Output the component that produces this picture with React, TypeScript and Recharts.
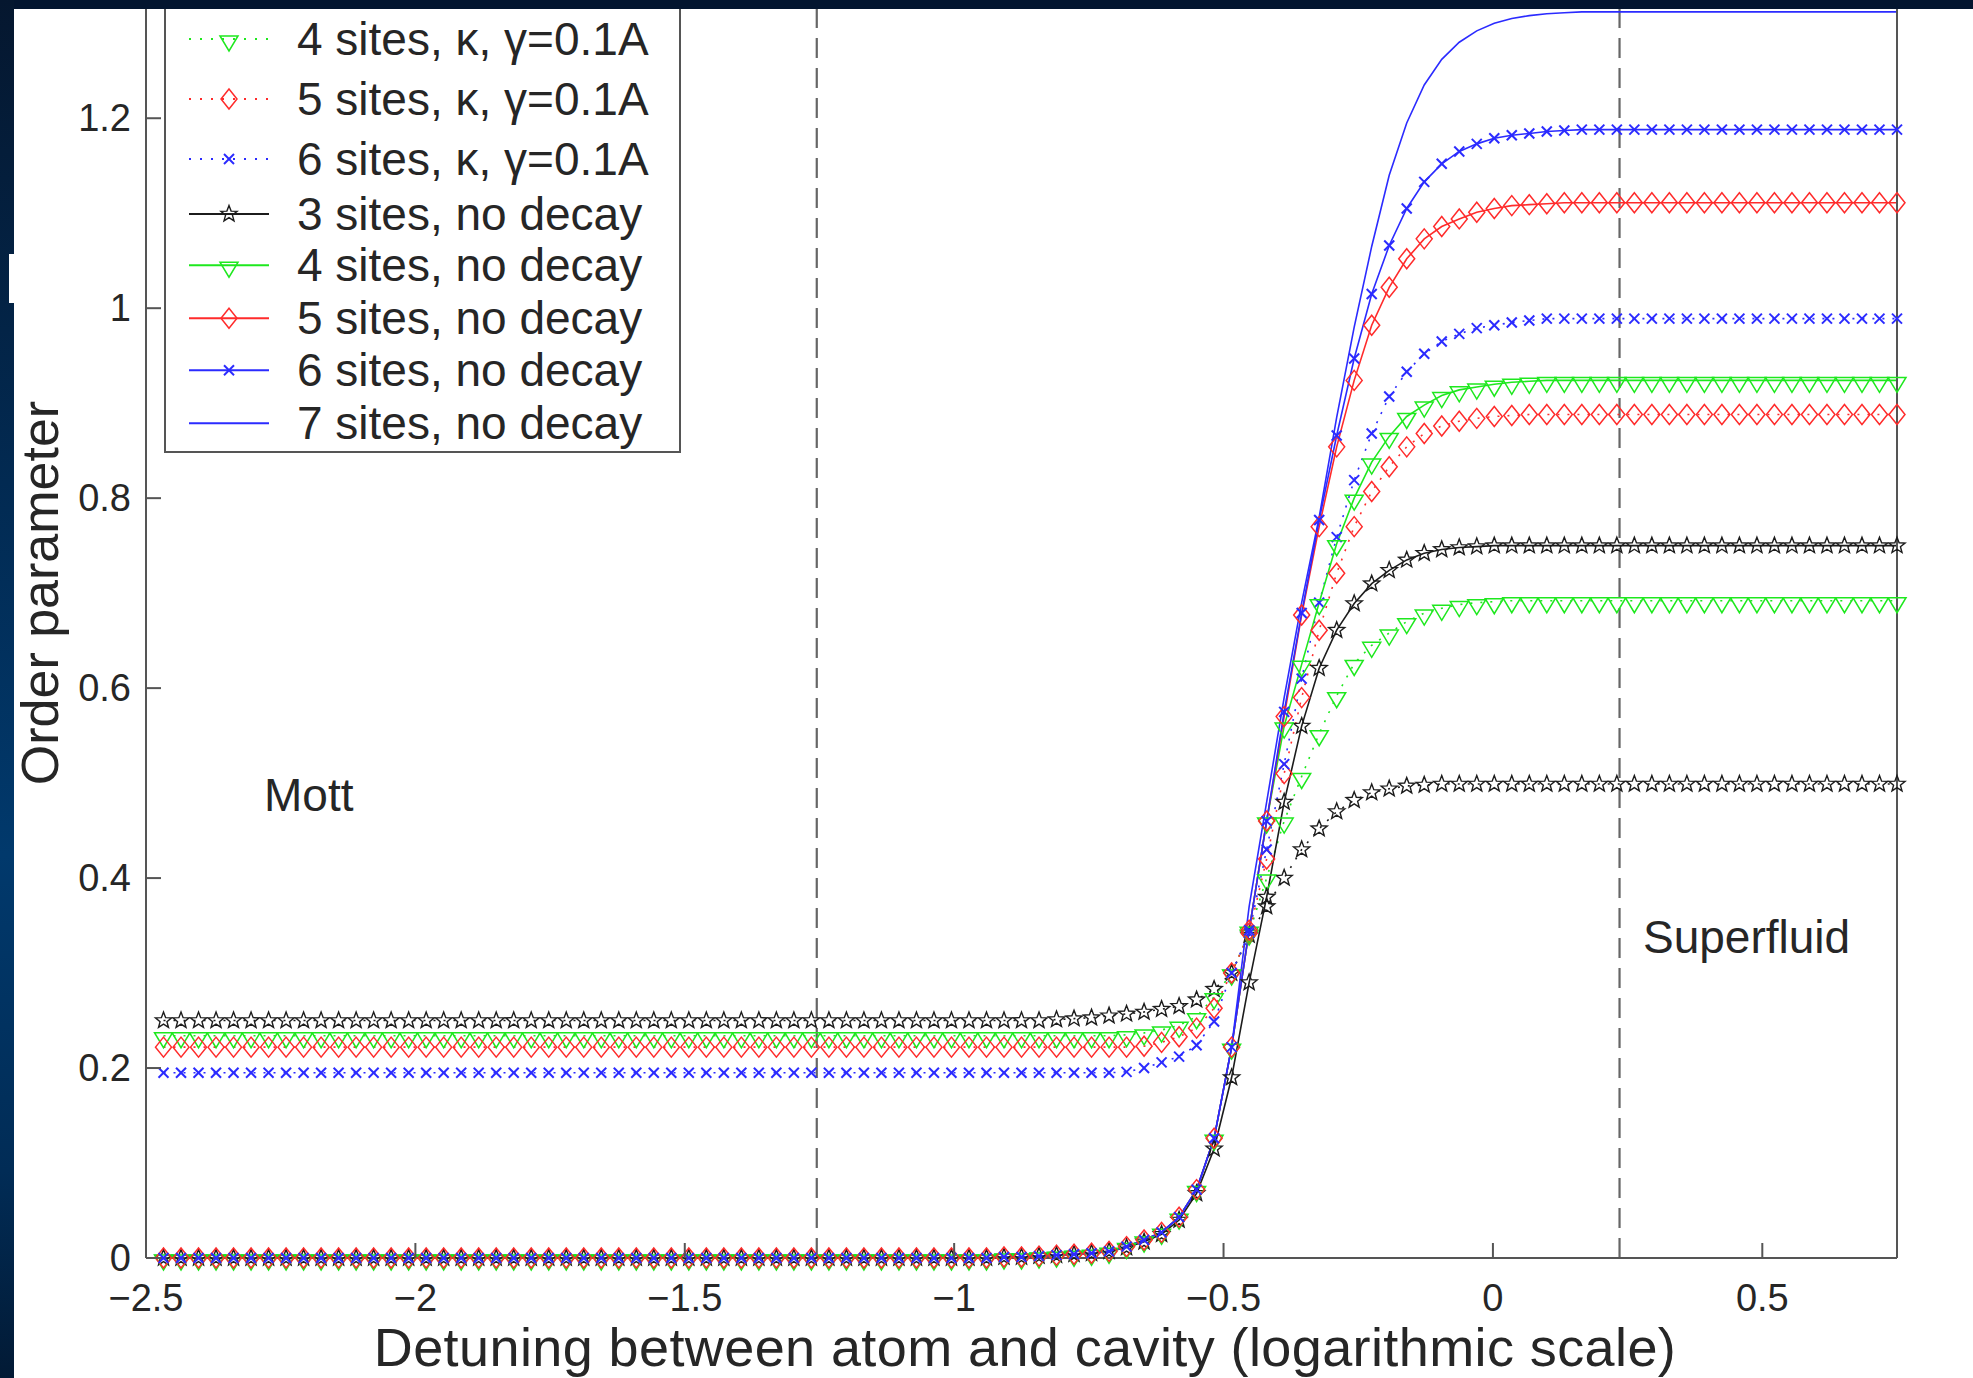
import React from 'react';
import { LineChart, Line, XAxis, YAxis, ReferenceLine } from 'recharts';

// detuning (log scale) sample points
const xValues = [
  -2.4675, -2.435, -2.4025, -2.37, -2.3375, -2.305, -2.2725, -2.24, -2.2075, -2.175,
  -2.1425, -2.11, -2.0775, -2.045, -2.0125, -1.98, -1.9475, -1.915, -1.8825, -1.85,
  -1.8175, -1.785, -1.7525, -1.72, -1.6875, -1.655, -1.6225, -1.59, -1.5575, -1.525,
  -1.4925, -1.46, -1.4275, -1.395, -1.3625, -1.33, -1.2975, -1.265, -1.2325, -1.2,
  -1.1675, -1.135, -1.1025, -1.07, -1.0375, -1.005, -0.9725, -0.94, -0.9075, -0.875,
  -0.8425, -0.81, -0.7775, -0.745, -0.7125, -0.68, -0.6475, -0.615, -0.5825, -0.55,
  -0.5175, -0.485, -0.4525, -0.42, -0.3875, -0.355, -0.3225, -0.29, -0.2575, -0.225,
  -0.1925, -0.16, -0.1275, -0.095, -0.0625, -0.03, 0.0025, 0.035, 0.0675, 0.1,
  0.1325, 0.165, 0.1975, 0.23, 0.2625, 0.295, 0.3275, 0.36, 0.3925, 0.425,
  0.4575, 0.49, 0.5225, 0.555, 0.5875, 0.62, 0.6525, 0.685, 0.7175, 0.75,
];

const xTicks = [-2.5, -2, -1.5, -1, -0.5, 0, 0.5];
const yTicks = [0, 0.2, 0.4, 0.6, 0.8, 1, 1.2];
const phaseBoundaries = [-1.255, 0.235];

const sites3Decay = [
  0.25, 0.25, 0.25, 0.25, 0.25, 0.25, 0.25, 0.25, 0.25, 0.25,
  0.25, 0.25, 0.25, 0.25, 0.25, 0.25, 0.25, 0.25, 0.25, 0.25,
  0.25, 0.25, 0.25, 0.25, 0.25, 0.25, 0.25, 0.25, 0.25, 0.25,
  0.25, 0.25, 0.25, 0.25, 0.25, 0.25, 0.25, 0.25, 0.25, 0.25,
  0.25, 0.25, 0.25, 0.25, 0.25, 0.25, 0.25, 0.25, 0.25, 0.25,
  0.25, 0.251, 0.252, 0.253, 0.255, 0.257, 0.259, 0.262, 0.265, 0.272,
  0.283, 0.3, 0.34, 0.37, 0.4, 0.43, 0.452, 0.47, 0.482, 0.49,
  0.494, 0.497, 0.498, 0.499, 0.499, 0.499, 0.499, 0.499, 0.499, 0.499,
  0.499, 0.499, 0.499, 0.499, 0.499, 0.499, 0.499, 0.499, 0.499, 0.499,
  0.499, 0.499, 0.499, 0.499, 0.499, 0.499, 0.499, 0.499, 0.499, 0.499,
];

const sites4Decay = [
  0.234, 0.234, 0.234, 0.234, 0.234, 0.234, 0.234, 0.234, 0.234, 0.234,
  0.234, 0.234, 0.234, 0.234, 0.234, 0.234, 0.234, 0.234, 0.234, 0.234,
  0.234, 0.234, 0.234, 0.234, 0.234, 0.234, 0.234, 0.234, 0.234, 0.234,
  0.234, 0.234, 0.234, 0.234, 0.234, 0.234, 0.234, 0.234, 0.234, 0.234,
  0.234, 0.234, 0.234, 0.234, 0.234, 0.234, 0.234, 0.234, 0.234, 0.234,
  0.234, 0.234, 0.234, 0.234, 0.234, 0.235, 0.237, 0.24, 0.245, 0.254,
  0.275, 0.3, 0.342, 0.4, 0.46, 0.507, 0.552, 0.592, 0.626, 0.645,
  0.658, 0.67, 0.679, 0.684, 0.688, 0.69, 0.691, 0.692, 0.692, 0.692,
  0.692, 0.692, 0.692, 0.692, 0.692, 0.692, 0.692, 0.692, 0.692, 0.692,
  0.692, 0.692, 0.692, 0.692, 0.692, 0.692, 0.692, 0.692, 0.692, 0.692,
];

const sites5Decay = [
  0.222, 0.222, 0.222, 0.222, 0.222, 0.222, 0.222, 0.222, 0.222, 0.222,
  0.222, 0.222, 0.222, 0.222, 0.222, 0.222, 0.222, 0.222, 0.222, 0.222,
  0.222, 0.222, 0.222, 0.222, 0.222, 0.222, 0.222, 0.222, 0.222, 0.222,
  0.222, 0.222, 0.222, 0.222, 0.222, 0.222, 0.222, 0.222, 0.222, 0.222,
  0.222, 0.222, 0.222, 0.222, 0.222, 0.222, 0.222, 0.222, 0.222, 0.222,
  0.222, 0.222, 0.222, 0.222, 0.222, 0.222, 0.223, 0.227, 0.233, 0.242,
  0.263, 0.3, 0.342, 0.42, 0.51, 0.59, 0.661, 0.721, 0.77, 0.807,
  0.833, 0.854, 0.868, 0.876, 0.881, 0.884, 0.886, 0.887, 0.888, 0.888,
  0.888, 0.888, 0.888, 0.888, 0.888, 0.888, 0.888, 0.888, 0.888, 0.888,
  0.888, 0.888, 0.888, 0.888, 0.888, 0.888, 0.888, 0.888, 0.888, 0.888,
];

const sites6Decay = [
  0.195, 0.195, 0.195, 0.195, 0.195, 0.195, 0.195, 0.195, 0.195, 0.195,
  0.195, 0.195, 0.195, 0.195, 0.195, 0.195, 0.195, 0.195, 0.195, 0.195,
  0.195, 0.195, 0.195, 0.195, 0.195, 0.195, 0.195, 0.195, 0.195, 0.195,
  0.195, 0.195, 0.195, 0.195, 0.195, 0.195, 0.195, 0.195, 0.195, 0.195,
  0.195, 0.195, 0.195, 0.195, 0.195, 0.195, 0.195, 0.195, 0.195, 0.195,
  0.195, 0.195, 0.195, 0.195, 0.195, 0.196, 0.2, 0.206, 0.212, 0.224,
  0.249, 0.3, 0.342, 0.43, 0.52, 0.61, 0.69, 0.759, 0.819, 0.868,
  0.907, 0.933, 0.952, 0.965, 0.973, 0.979, 0.982, 0.985, 0.987, 0.989,
  0.989, 0.989, 0.989, 0.989, 0.989, 0.989, 0.989, 0.989, 0.989, 0.989,
  0.989, 0.989, 0.989, 0.989, 0.989, 0.989, 0.989, 0.989, 0.989, 0.989,
];

const sites3 = [
  0, 0, 0, 0, 0, 0, 0, 0, 0, 0,
  0, 0, 0, 0, 0, 0, 0, 0, 0, 0,
  0, 0, 0, 0, 0, 0, 0, 0, 0, 0,
  0, 0, 0, 0, 0, 0, 0, 0, 0, 0,
  0, 0, 0, 0, 0, 0, 0, 0, 0.001, 0.001,
  0.002, 0.003, 0.004, 0.005, 0.007, 0.011, 0.017, 0.025, 0.04, 0.068,
  0.115, 0.19, 0.29, 0.38, 0.48, 0.56, 0.621, 0.661, 0.689, 0.71,
  0.724, 0.735, 0.742, 0.746, 0.748, 0.749, 0.75, 0.75, 0.75, 0.75,
  0.75, 0.75, 0.75, 0.75, 0.75, 0.75, 0.75, 0.75, 0.75, 0.75,
  0.75, 0.75, 0.75, 0.75, 0.75, 0.75, 0.75, 0.75, 0.75, 0.75,
];

const sites4 = [
  0, 0, 0, 0, 0, 0, 0, 0, 0, 0,
  0, 0, 0, 0, 0, 0, 0, 0, 0, 0,
  0, 0, 0, 0, 0, 0, 0, 0, 0, 0,
  0, 0, 0, 0, 0, 0, 0, 0, 0, 0,
  0, 0, 0, 0, 0, 0, 0, 0, 0.001, 0.001,
  0.002, 0.003, 0.004, 0.005, 0.007, 0.012, 0.019, 0.027, 0.043, 0.072,
  0.126, 0.222, 0.345, 0.46, 0.56, 0.625, 0.69, 0.752, 0.8, 0.838,
  0.865, 0.886, 0.898, 0.908, 0.914, 0.917, 0.92, 0.922, 0.923, 0.924,
  0.924, 0.924, 0.924, 0.924, 0.924, 0.924, 0.924, 0.924, 0.924, 0.924,
  0.924, 0.924, 0.924, 0.924, 0.924, 0.924, 0.924, 0.924, 0.924, 0.924,
];

const sites5 = [
  0, 0, 0, 0, 0, 0, 0, 0, 0, 0,
  0, 0, 0, 0, 0, 0, 0, 0, 0, 0,
  0, 0, 0, 0, 0, 0, 0, 0, 0, 0,
  0, 0, 0, 0, 0, 0, 0, 0, 0, 0,
  0, 0, 0, 0, 0, 0, 0, 0, 0.001, 0.001,
  0.002, 0.003, 0.004, 0.005, 0.007, 0.012, 0.019, 0.027, 0.043, 0.072,
  0.126, 0.222, 0.345, 0.46, 0.57, 0.677, 0.77, 0.854, 0.924, 0.982,
  1.022, 1.052, 1.073, 1.086, 1.094, 1.101, 1.105, 1.108, 1.109, 1.11,
  1.111, 1.111, 1.111, 1.111, 1.111, 1.111, 1.111, 1.111, 1.111, 1.111,
  1.111, 1.111, 1.111, 1.111, 1.111, 1.111, 1.111, 1.111, 1.111, 1.111,
];

const sites6 = [
  0, 0, 0, 0, 0, 0, 0, 0, 0, 0,
  0, 0, 0, 0, 0, 0, 0, 0, 0, 0,
  0, 0, 0, 0, 0, 0, 0, 0, 0, 0,
  0, 0, 0, 0, 0, 0, 0, 0, 0, 0,
  0, 0, 0, 0, 0, 0, 0, 0, 0.001, 0.001,
  0.002, 0.003, 0.004, 0.005, 0.007, 0.012, 0.019, 0.027, 0.043, 0.072,
  0.126, 0.222, 0.345, 0.46, 0.575, 0.679, 0.777, 0.866, 0.947, 1.015,
  1.066, 1.105, 1.133, 1.152, 1.165, 1.173, 1.179, 1.182, 1.184, 1.186,
  1.187, 1.188, 1.188, 1.188, 1.188, 1.188, 1.188, 1.188, 1.188, 1.188,
  1.188, 1.188, 1.188, 1.188, 1.188, 1.188, 1.188, 1.188, 1.188, 1.188,
];

const sites7 = [
  0, 0, 0, 0, 0, 0, 0, 0, 0, 0,
  0, 0, 0, 0, 0, 0, 0, 0, 0, 0,
  0, 0, 0, 0, 0, 0, 0, 0, 0, 0,
  0, 0, 0, 0, 0, 0, 0, 0, 0, 0,
  0, 0, 0, 0, 0, 0, 0, 0, 0.001, 0.001,
  0.002, 0.003, 0.004, 0.005, 0.007, 0.012, 0.019, 0.027, 0.043, 0.072,
  0.126, 0.222, 0.37, 0.48, 0.59, 0.69, 0.78, 0.885, 0.98, 1.065,
  1.14, 1.195, 1.235, 1.262, 1.28, 1.292, 1.3, 1.305, 1.308, 1.31,
  1.311, 1.312, 1.312, 1.312, 1.312, 1.312, 1.312, 1.312, 1.312, 1.312,
  1.312, 1.312, 1.312, 1.312, 1.312, 1.312, 1.312, 1.312, 1.312, 1.312,
];

const BLACK = '#1c1c1c';
const GREEN = '#1ee81e';
const RED = '#ff2b2b';
const BLUE = '#2b2bff';
const AXIS = '#555555';
const TEXT = '#262626';
const FONT = '"Liberation Sans", Arial, Helvetica, sans-serif';

type MarkerKind = 'star' | 'tri' | 'diamond' | 'x' | 'none';

// the 3-site dissipative entry sits above the cropped top of the legend, so it is not listed there
const series: {
  key: string;
  name: string;
  values: number[];
  color: string;
  dotted: boolean;
  marker: MarkerKind;
  inLegend: boolean;
}[] = [
  { key: 's3k', name: '3 sites, κ, γ=0.1A', values: sites3Decay, color: BLACK, dotted: true, marker: 'star', inLegend: false },
  { key: 's4k', name: '4 sites, κ, γ=0.1A', values: sites4Decay, color: GREEN, dotted: true, marker: 'tri', inLegend: true },
  { key: 's5k', name: '5 sites, κ, γ=0.1A', values: sites5Decay, color: RED, dotted: true, marker: 'diamond', inLegend: true },
  { key: 's6k', name: '6 sites, κ, γ=0.1A', values: sites6Decay, color: BLUE, dotted: true, marker: 'x', inLegend: true },
  { key: 's3', name: '3 sites, no decay', values: sites3, color: BLACK, dotted: false, marker: 'star', inLegend: true },
  { key: 's4', name: '4 sites, no decay', values: sites4, color: GREEN, dotted: false, marker: 'tri', inLegend: true },
  { key: 's5', name: '5 sites, no decay', values: sites5, color: RED, dotted: false, marker: 'diamond', inLegend: true },
  { key: 's6', name: '6 sites, no decay', values: sites6, color: BLUE, dotted: false, marker: 'x', inLegend: true },
  { key: 's7', name: '7 sites, no decay', values: sites7, color: BLUE, dotted: false, marker: 'none', inLegend: true },
];

const data = xValues.map((x, i) => {
  const row: Record<string, number> = { x };
  series.forEach((s) => {
    row[s.key] = s.values[i];
  });
  return row;
});

function Marker({ kind, cx, cy, color }: { kind: MarkerKind; cx: number; cy: number; color: string }) {
  if (kind === 'star') {
    const pts: string[] = [];
    for (let k = 0; k < 10; k++) {
      const r = k % 2 === 0 ? 8.5 : 3.6;
      const a = -Math.PI / 2 + (k * Math.PI) / 5;
      pts.push(`${cx + r * Math.cos(a)},${cy + r * Math.sin(a)}`);
    }
    return <polygon points={pts.join(' ')} fill="none" stroke={color} strokeWidth={1.4} />;
  }
  if (kind === 'tri') {
    return (
      <polygon
        points={`${cx - 9},${cy - 3} ${cx + 9},${cy - 3} ${cx},${cy + 12}`}
        fill="none"
        stroke={color}
        strokeWidth={1.5}
      />
    );
  }
  if (kind === 'diamond') {
    return (
      <polygon
        points={`${cx},${cy - 10} ${cx + 8},${cy} ${cx},${cy + 10} ${cx - 8},${cy}`}
        fill="none"
        stroke={color}
        strokeWidth={1.5}
      />
    );
  }
  if (kind === 'x') {
    return (
      <g stroke={color} strokeWidth={2}>
        <line x1={cx - 5} y1={cy - 5} x2={cx + 5} y2={cy + 5} />
        <line x1={cx - 5} y1={cy + 5} x2={cx + 5} y2={cy - 5} />
      </g>
    );
  }
  return null;
}

const fmtTick = (v: number) => (v < 0 ? `\u2212${Math.abs(v)}` : String(v));

const XTick = (props: any) => {
  const { x, y, payload } = props;
  return (
    <g>
      <line x1={x} y1={y} x2={x} y2={y - 15} stroke={AXIS} strokeWidth={2} />
      <text x={x} y={y + 53} textAnchor="middle" fontSize={38} fill={TEXT} fontFamily={FONT}>
        {fmtTick(payload.value)}
      </text>
    </g>
  );
};

const YTick = (props: any) => {
  const { x, y, payload } = props;
  return (
    <g>
      <line x1={x} y1={y} x2={x + 15} y2={y} stroke={AXIS} strokeWidth={2} />
      <text x={x - 15} y={y + 12.5} textAnchor="end" fontSize={38} fill={TEXT} fontFamily={FONT}>
        {fmtTick(payload.value)}
      </text>
    </g>
  );
};

const RightTick = (props: any) => {
  const { x, y } = props;
  return <line x1={x} y1={y} x2={x - 15} y2={y} stroke={AXIS} strokeWidth={2} />;
};

const legendRowHeight = (name: string, i: number) => (name.includes('κ') ? 60 : i === 3 ? 50 : 52.5);

function LegendBox() {
  const rows = series.filter((s) => s.inLegend);
  return (
    <div
      style={{
        position: 'absolute',
        left: 164,
        top: -10,
        width: 517,
        height: 463,
        boxSizing: 'border-box',
        border: `2px solid ${AXIS}`,
        background: '#fff',
        paddingTop: 17,
        fontFamily: FONT,
        fontSize: 46,
        color: TEXT,
      }}
    >
      {rows.map((s, i) => {
        const h = legendRowHeight(s.name, i);
        return (
          <div key={s.key} style={{ display: 'flex', alignItems: 'center', height: h }}>
            <svg width={80} height={h} style={{ marginLeft: 23, flexShrink: 0 }}>
              <line
                x1={0}
                y1={h / 2}
                x2={80}
                y2={h / 2}
                stroke={s.color}
                strokeWidth={2}
                strokeDasharray={s.dotted ? '2 9' : undefined}
              />
              <Marker kind={s.marker} cx={40} cy={h / 2} color={s.color} />
            </svg>
            <span style={{ marginLeft: 28, whiteSpace: 'nowrap', lineHeight: 1 }}>{s.name}</span>
          </div>
        );
      })}
    </div>
  );
}

export default function App() {
  return (
    <div
      style={{
        position: 'absolute',
        left: 0,
        top: 0,
        width: 1973,
        height: 1378,
        overflow: 'hidden',
        background: '#fff',
      }}
    >
      <LineChart width={1973} height={1378} data={data} margin={{ top: 9, right: 0, bottom: 0, left: 0 }}>
        <XAxis
          dataKey="x"
          type="number"
          domain={[-2.5, 0.75]}
          ticks={xTicks}
          interval={0}
          height={120}
          tickSize={0}
          tickMargin={0}
          tickLine={false}
          axisLine={{ stroke: AXIS, strokeWidth: 2 }}
          tick={XTick}
        />
        <YAxis
          yAxisId="left"
          type="number"
          domain={[0, 1.315]}
          ticks={yTicks}
          interval={0}
          width={146}
          tickSize={0}
          tickMargin={0}
          tickLine={false}
          axisLine={{ stroke: AXIS, strokeWidth: 2 }}
          tick={YTick}
        />
        <YAxis
          yAxisId="right"
          orientation="right"
          type="number"
          domain={[0, 1.315]}
          ticks={yTicks}
          interval={0}
          width={76}
          tickSize={0}
          tickMargin={0}
          tickLine={false}
          axisLine={{ stroke: AXIS, strokeWidth: 2 }}
          tick={RightTick}
        />
        {phaseBoundaries.map((b) => (
          <ReferenceLine key={b} x={b} yAxisId="left" stroke="#666" strokeWidth={2.2} strokeDasharray="20 10" />
        ))}
        {series.map((s) => (
          <Line
            key={s.key}
            yAxisId="left"
            type="linear"
            dataKey={s.key}
            name={s.name}
            stroke={s.color}
            strokeWidth={1.6}
            strokeDasharray={s.dotted ? '2 8' : undefined}
            isAnimationActive={false}
            activeDot={false}
            dot={
              s.marker === 'none'
                ? false
                : (p: any) => <Marker key={`${s.key}-${p.index}`} kind={s.marker} cx={p.cx} cy={p.cy} color={s.color} />
            }
          />
        ))}
      </LineChart>

      <LegendBox />

      <svg
        width={1973}
        height={1378}
        style={{ position: 'absolute', left: 0, top: 0, pointerEvents: 'none' }}
        fontFamily={FONT}
        fill={TEXT}
      >
        <text transform="translate(58, 593) rotate(-90)" textAnchor="middle" fontSize={52}>
          Order parameter
        </text>
        <text x={1025} y={1366} textAnchor="middle" fontSize={54} letterSpacing={0.4}>
          Detuning between atom and cavity (logarithmic scale)
        </text>
        <text x={264} y={811} fontSize={46}>
          Mott
        </text>
        <text x={1643} y={953} fontSize={46}>
          Superfluid
        </text>
      </svg>

      {/* slide frame around the pasted figure */}
      <div style={{ position: 'absolute', left: 0, top: 0, width: 1973, height: 9, background: '#03152f' }} />
      <div
        style={{
          position: 'absolute',
          left: 0,
          top: 0,
          width: 14,
          height: 1378,
          background: 'linear-gradient(to bottom, #05172f 0%, #022a52 35%, #01396c 62%, #012c56 85%, #021a35 100%)',
        }}
      />
      <div style={{ position: 'absolute', left: 9, top: 254, width: 5, height: 49, background: '#fff' }} />
    </div>
  );
}
